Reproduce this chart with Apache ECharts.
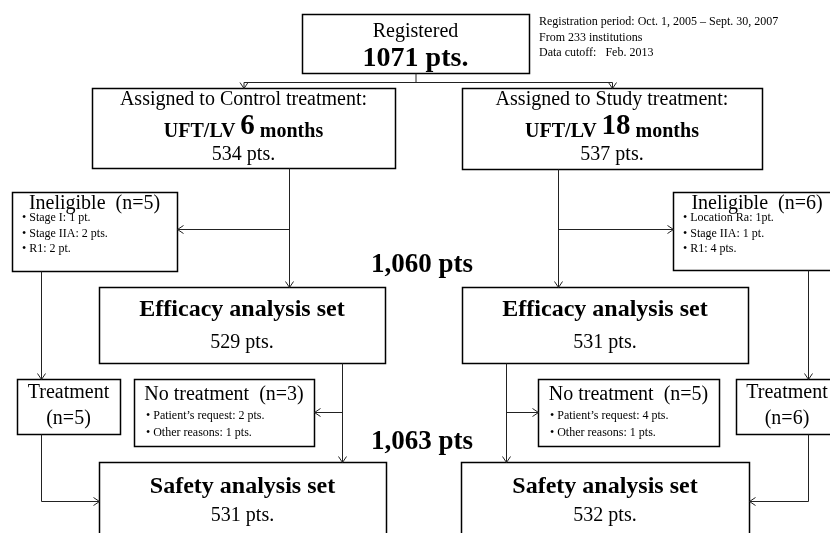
<!DOCTYPE html>
<html>
<head>
<meta charset="utf-8">
<script src="https://cdn.jsdelivr.net/npm/echarts@6/dist/echarts.min.js"></script>
<style>
  html, body { margin: 0; padding: 0; background: #fff; }
  #flow_div { width: 830px; height: 533px; }
</style>
</head>
<body>
<div id="flow_div"></div>
<script>
// ---- data ----
var registeredPts = 1071;
var registrationInfo = [
    'Registration period: Oct. 1, 2005 \u2013 Sept. 30, 2007',
    'From 233 institutions',
    'Data cutoff:   Feb. 2013'
];
var armNames = ['Control', 'Study'];
var armMonths = [6, 18];
var assignedPts = [534, 537];
var ineligibleN = [5, 6];
var ineligibleReasons = [
    ['Stage I: 1 pt.', 'Stage IIA: 2 pts.', 'R1: 2 pt.'],
    ['Location Ra: 1pt.', 'Stage IIA: 1 pt.', 'R1: 4 pts.']
];
var efficacyPts = [529, 531];
var efficacyTotal = '1,060';
var noTreatmentN = [3, 5];
var noTreatmentReasons = [
    ['Patient\u2019s request: 2 pts.', 'Other reasons: 1 pts.'],
    ['Patient\u2019s request: 4 pts.', 'Other reasons: 1 pts.']
];
var treatedIneligibleN = [5, 6];
var safetyPts = [531, 532];
var safetyTotal = '1,063';

// ---- layout of the boxes (x, y, w, h), left arm then right arm ----
var layout = {
    registered: [302, 14, 227, 59],
    assigned: [[92, 88, 303, 80], [462, 88, 300, 81]],
    ineligible: [[12, 192, 165, 79], [673, 192, 168, 78]],
    efficacy: [[99, 287, 286, 76], [462, 287, 286, 76]],
    noTreat: [[134, 379, 180, 67], [538, 379, 181, 67]],
    treated: [[17, 379, 103, 55], [736, 379, 102, 55]],
    safety: [[99, 462, 287, 90], [461, 462, 288, 90]],
    trunk: [289, 558],      // line from assigned box down to efficacy
    branch: [342, 506],     // line from efficacy down to safety
    side: [41, 808],        // line from ineligible down to treatment
    splitY: 82
};

var FONT = "'Liberation Serif', 'Times New Roman', serif";
var els = [];

function box(r) {
    els.push({
        type: 'rect',
        shape: { x: r[0] + 0.5, y: r[1] + 0.5, width: r[2], height: r[3] },
        style: { fill: '#fff', stroke: '#000', lineWidth: 1.5 },
        z: 1
    });
}
function text(x, y, str, size, bold, align) {
    els.push({
        type: 'text',
        style: {
            x: x, y: y, text: str,
            font: (bold ? 'bold ' : '') + size + 'px ' + FONT,
            fill: '#000',
            align: align || 'center',
            verticalAlign: 'middle'
        },
        z: 3
    });
}
function line(points) {
    els.push({
        type: 'polyline',
        shape: { points: points.map(function (p) { return [p[0] + 0.5, p[1] + 0.5]; }) },
        style: { stroke: '#222', lineWidth: 1, fill: null },
        z: 2
    });
}
// open chevron arrow head, tip at (x,y)
function arrow(x, y, dir) {
    var a = 4, b = 6, pts;
    if (dir === 'down') pts = [[x - a, y - b], [x, y], [x + a, y - b]];
    if (dir === 'left') pts = [[x + b, y - a], [x, y], [x + b, y + a]];
    if (dir === 'right') pts = [[x - b, y - a], [x, y], [x - b, y + a]];
    line(pts);
}
function cx(r) { return r[0] + r[2] / 2; }

// registered
var reg = layout.registered;
box(reg);
text(cx(reg), reg[1] + 18, 'Registered', 20, false);
text(cx(reg), reg[1] + 45, registeredPts + ' pts.', 28, true);
registrationInfo.forEach(function (s, i) {
    text(539, 22 + i * 15.5, s, 12, false, 'left');
});

// split to the two arms
var aL = layout.assigned[0], aR = layout.assigned[1];
line([[cx(reg), reg[1] + reg[3]], [cx(reg), layout.splitY]]);
line([[cx(aL), layout.splitY], [cx(aR), layout.splitY]]);
[aL, aR].forEach(function (a) {
    line([[cx(a), layout.splitY], [cx(a), a[1]]]);
    arrow(cx(a), a[1], 'down');
});

for (var i = 0; i < 2; i++) {
    var a = layout.assigned[i];
    var inel = layout.ineligible[i];
    var eff = layout.efficacy[i];
    var nt = layout.noTreat[i];
    var tr = layout.treated[i];
    var sf = layout.safety[i];
    var tx = layout.trunk[i], bx = layout.branch[i], sx = layout.side[i];
    var left = i === 0;

    // assigned box
    box(a);
    text(cx(a), a[1] + 12, 'Assigned to ' + armNames[i] + ' treatment:', 20, false);
    els.push({
        type: 'text',
        style: {
            x: cx(a), y: a[1] + 39,
            text: '{b|UFT/LV }{n|' + armMonths[i] + '}{b| months}',
            align: 'center', verticalAlign: 'middle',
            rich: {
                b: { font: 'bold 20px ' + FONT, fill: '#000', verticalAlign: 'bottom' },
                n: { font: 'bold 29px ' + FONT, fill: '#000', verticalAlign: 'bottom' }
            }
        },
        z: 3
    });
    text(cx(a), a[1] + 67, assignedPts[i] + ' pts.', 20, false);

    // trunk to efficacy set with ineligible branch
    var midY = 229;
    line([[tx, a[1] + a[3]], [tx, eff[1]]]);
    arrow(tx, eff[1], 'down');
    var inelEdge = left ? inel[0] + inel[2] : inel[0];
    line([[tx, midY], [inelEdge, midY]]);
    arrow(inelEdge, midY, left ? 'left' : 'right');

    box(inel);
    text(cx(inel), inel[1] + 12, 'Ineligible  (n=' + ineligibleN[i] + ')', 20, false);
    ineligibleReasons[i].forEach(function (s, k) {
        text(inel[0] + 10, inel[1] + 26 + k * 15.5, '\u2022 ' + s, 12, false, 'left');
    });

    // ineligible but treated
    line([[sx, inel[1] + inel[3]], [sx, tr[1]]]);
    arrow(sx, tr[1], 'down');
    box(tr);
    text(cx(tr), tr[1] + 14, 'Treatment', 20, false);
    text(cx(tr), tr[1] + 40, '(n=' + treatedIneligibleN[i] + ')', 20, false);
    var sfEdge = left ? sf[0] : sf[0] + sf[2];
    line([[sx, tr[1] + tr[3]], [sx, 501], [sfEdge, 501]]);
    arrow(sfEdge, 501, left ? 'right' : 'left');

    // efficacy set
    box(eff);
    text(cx(eff), eff[1] + 23, 'Efficacy analysis set', 24, true);
    text(cx(eff), eff[1] + 56, efficacyPts[i] + ' pts.', 20, false);

    // branch to safety set with no-treatment branch
    line([[bx, eff[1] + eff[3]], [bx, sf[1]]]);
    arrow(bx, sf[1], 'down');
    var ntEdge = left ? nt[0] + nt[2] : nt[0];
    line([[bx, 412], [ntEdge, 412]]);
    arrow(ntEdge, 412, left ? 'left' : 'right');

    box(nt);
    text(cx(nt), nt[1] + 16, 'No treatment  (n=' + noTreatmentN[i] + ')', 20, false);
    noTreatmentReasons[i].forEach(function (s, k) {
        text(nt[0] + 12, nt[1] + 37 + k * 17, '\u2022 ' + s, 12, false, 'left');
    });

    // safety set
    box(sf);
    text(cx(sf), sf[1] + 25, 'Safety analysis set', 24, true);
    text(cx(sf), sf[1] + 54, safetyPts[i] + ' pts.', 20, false);
}

// totals between the arms
text(422, 265, efficacyTotal + ' pts', 27, true);
text(422, 442, safetyTotal + ' pts', 27, true);

var myChart = echarts.init(document.getElementById('flow_div'));
myChart.setOption({
    backgroundColor: '#fff',
    animation: false,
    graphic: { elements: els }
});
</script>
</body>
</html>
